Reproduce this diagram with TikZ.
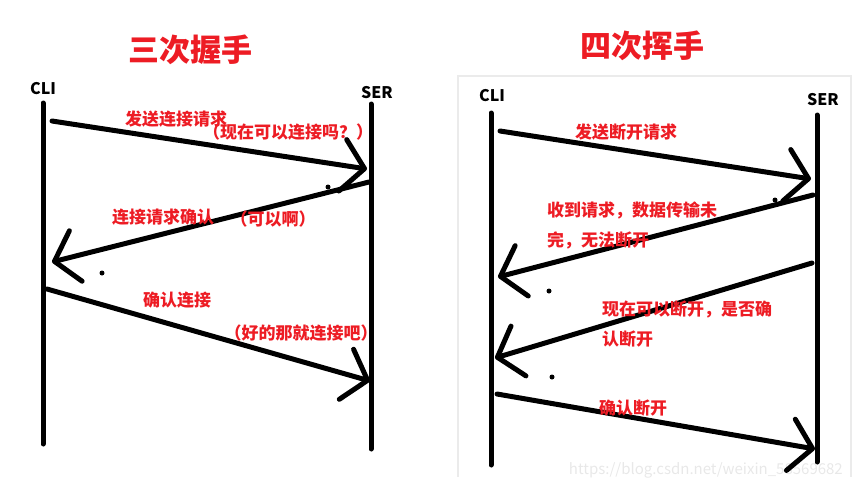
\documentclass[tikz,border=0pt]{standalone}
\usepackage{fontspec}
\setmainfont{Noto Sans CJK SC}
\usetikzlibrary{arrows.meta, positioning}
\definecolor{paintred}{RGB}{237, 28, 36}
\definecolor{framegray}{RGB}{235, 235, 235}

\begin{document}
\begin{tikzpicture}[x=1pt, y=-1pt,
                    title/.style={text=paintred, font=\bfseries\fontsize{31}{34}\selectfont, inner sep=0},
                    actor/.style={font=\bfseries\fontsize{16}{18}\selectfont, inner sep=0},
                    lbl/.style={text=paintred, font=\bfseries\fontsize{17}{30}\selectfont, inner sep=0},
                    life/.style={line width=5pt, line cap=round},
                    msg/.style={line width=5pt, line cap=round, -{Straight Barb[length=22pt, width=52pt, round]}},
                    speck/.style={fill=black, circle, inner sep=0, minimum size=5pt}
                ]
                \useasboundingbox (0,0) rectangle (852,488);

                % --- Three-way handshake ---
                \node[title] (titleA) at (190,50) {三次握手};
                \node[actor] (cliA) at (43,89) {CLI};
                \node[actor] (serA) at (377,93) {SER};

                \coordinate (cliAtop) at (43,103);
                \coordinate (cliAbot) at (43,444);
                \coordinate (serAtop) at (371,104);
                \coordinate (serAbot) at (371,449);
                \draw[life] (cliAtop) -- (cliAbot);
                \draw[life] (serAtop) -- (serAbot);

                \coordinate (a1s) at (52,121);  \coordinate (a1e) at (367,169);
                \coordinate (a2s) at (369,182); \coordinate (a2e) at (52,262);
                \coordinate (a3s) at (47,289);  \coordinate (a3e) at (370,381);
                \draw[msg] (a1s) -- (a1e);
                \draw[msg] (a2s) -- (a2e);
                \draw[msg] (a3s) -- (a3e);

                \node[lbl] (reqA) at (176,119) {发送连接请求};
                \node[lbl] (askA) at (288,132) {（现在可以连接吗？）};
                \node[lbl] (ackA) at (163,217) {连接请求确认};
                \node[lbl] (okA) at (273,219) {（可以啊）};
                \node[lbl] (cfmA) at (177,300) {确认连接};
                \node[lbl] (goA) at (301,333) {（好的那就连接吧）};

                \node[speck] (dotA1) at (328,187) {};
                \node[speck] (dotA2) at (102,273) {};

                % --- Four-way wave ---
                \draw[framegray, line width=1.5pt] (458,477) -- (458,76) -- (851,76) -- (851,477);
                \node[text=gray!18, font=\fontsize{15}{17}\selectfont, anchor=east, inner sep=0] (mark) at (843,470) {https://blog.csdn.net/weixin\_58569682};
                \node[title] (titleB) at (642,46) {四次挥手};
                \node[actor] (cliB) at (492,96) {CLI};
                \node[actor] (serB) at (823,100) {SER};

                \coordinate (cliBtop) at (491,113);
                \coordinate (cliBbot) at (491,465);
                \coordinate (serBtop) at (817,115);
                \coordinate (serBbot) at (817,462);
                \draw[life] (cliBtop) -- (cliBbot);
                \draw[life] (serBtop) -- (serBbot);

                \coordinate (b1s) at (500,131); \coordinate (b1e) at (811,179);
                \coordinate (b2s) at (813,195); \coordinate (b2e) at (498,277);
                \coordinate (b3s) at (812,263); \coordinate (b3e) at (495,358);
                \coordinate (b4s) at (497,394); \coordinate (b4e) at (815,449);
                \draw[msg] (b1s) -- (b1e);
                \draw[msg] (b2s) -- (b2e);
                \draw[msg] (b3s) -- (b3e);
                \draw[msg] (b4s) -- (b4e);

                \node[lbl] (reqB) at (626,132) {发送断开请求};
                \node[lbl, align=left, anchor=west] (waitB) at (547,225) {收到请求，数据传输未\\完，无法断开};
                \node[lbl, align=left, anchor=west] (askB) at (602,324) {现在可以断开，是否确\\认断开};
                \node[lbl] (cfmB) at (633,408) {确认断开};

                \node[speck] (dotB1) at (775,200) {};
                \node[speck] (dotB2) at (549,291) {};
                \node[speck] (dotB3) at (552,377) {};

\end{tikzpicture}
\end{document}
